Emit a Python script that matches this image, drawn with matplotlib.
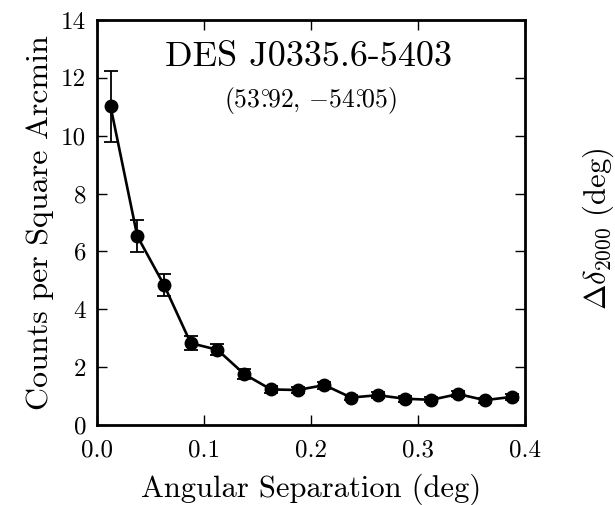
import numpy as np
import matplotlib
matplotlib.use("Agg")
import matplotlib.pyplot as plt

plt.rcParams["font.family"] = "serif"
plt.rcParams["font.serif"] = ["cmr10"]
plt.rcParams["mathtext.fontset"] = "cm"
plt.rcParams["axes.formatter.use_mathtext"] = True

# Radial density profile (bin centres in deg)
separation = [0.0125, 0.0375, 0.0625, 0.0875, 0.1125, 0.1375, 0.1625, 0.1875,
              0.2125, 0.2375, 0.2625, 0.2875, 0.3125, 0.3375, 0.3625, 0.3875]
density = [11.02, 6.53, 4.84, 2.83, 2.60, 1.76, 1.23, 1.21,
           1.38, 0.95, 1.03, 0.91, 0.87, 1.07, 0.86, 0.97]
density_err = [1.23, 0.56, 0.37, 0.23, 0.19, 0.16, 0.13, 0.12,
               0.12, 0.10, 0.10, 0.10, 0.09, 0.10, 0.09, 0.09]

x_ticks = [0.0, 0.1, 0.2, 0.3, 0.4]
x_tick_labels = ["0.0", "0.1", "0.2", "0.3", "0.4"]
y_ticks = [0, 2, 4, 6, 8, 10, 12, 14]
y_tick_labels = ["0", "2", "4", "6", "8", "10", "12", "14"]

fig = plt.figure(figsize=(6.15, 5.05), dpi=100)
ax = fig.add_axes([0.158, 0.1584, 0.6955, 0.802])

ax.errorbar(separation, density, yerr=density_err, color="black", fmt="-o",
            lw=1.9, ms=9, elinewidth=1.3, capsize=5, capthick=1.3)

ax.set_xlim(0, 0.4)
ax.set_ylim(0, 14)
ax.set_xticks(x_ticks)
ax.set_xticklabels(x_tick_labels)
ax.set_yticks(y_ticks)
ax.set_yticklabels(y_tick_labels)
ax.tick_params(direction="in", length=7, width=1, top=True, right=True,
               labelsize=18)
ax.tick_params(axis="x", pad=10)
ax.tick_params(axis="y", pad=8)
for sp in ax.spines.values():
    sp.set_linewidth(2)

ax.set_xlabel("Angular Separation (deg)", fontsize=22, labelpad=9)
ax.set_ylabel("Counts per Square Arcmin", fontsize=23, labelpad=5)

ax.text(0.494, 0.908, "DES J0335.6-5403", transform=ax.transAxes,
        ha="center", va="center", fontsize=26)
ax.text(0.498, 0.800, r"(53$^{\circ}\!\!\!$.92, $-$54$^{\circ}\!\!\!$.05)",
        transform=ax.transAxes, ha="center", va="center", fontsize=18.5)

fig.text(0.973, 0.547, r"$\Delta\delta_{2000}$ (deg)", rotation=90,
         ha="center", va="center", fontsize=22)

fig.savefig("out.png", dpi=100)
